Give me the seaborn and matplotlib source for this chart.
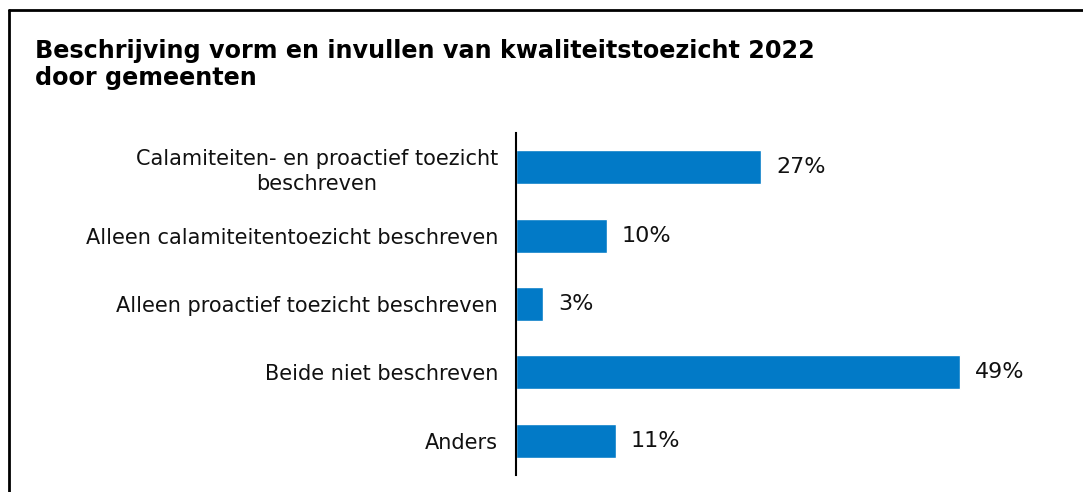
## Horizontal bar chart: kwaliteitstoezicht 2022 door gemeenten

import matplotlib
matplotlib.use("Agg")
import matplotlib.pyplot as plt
from matplotlib.lines import Line2D
import pandas as pd
import seaborn as sns

## data
categories = [
    "Calamiteiten- en proactief toezicht\nbeschreven",
    "Alleen calamiteitentoezicht beschreven",
    "Alleen proactief toezicht beschreven",
    "Beide niet beschreven",
    "Anders",
]
percentages = [27, 10, 3, 49, 11]
title = "Beschrijving vorm en invullen van kwaliteitstoezicht 2022\ndoor gemeenten"

df = pd.DataFrame({"categorie": categories, "procent": percentages})

sns.set_theme(style="white")
plt.rcParams["font.family"] = ["DejaVu Sans"]

fig = plt.figure(figsize=(10.83, 4.92), dpi=100)
ax = fig.add_axes([0.4765, 0.0346, 0.502, 0.695])

sns.barplot(data=df, x="procent", y="categorie", color="#027AC7",
            width=0.5, saturation=1, ax=ax)

ax.set_xlim(0, 60)
ax.set_ylim(4.5, -0.5)
ax.set_xlabel("")
ax.set_ylabel("")
ax.set_xticks([])
ax.tick_params(axis="y", length=0, pad=13, labelsize=15, labelcolor="#111111")
for lbl in ax.get_yticklabels():
    lbl.set_multialignment("center")
    lbl.set_linespacing(1.3)

for side in ["top", "right", "bottom"]:
    ax.spines[side].set_visible(False)
ax.spines["left"].set_color("black")
ax.spines["left"].set_linewidth(1.5)

## value labels next to the bars
for i, v in enumerate(percentages):
    ax.annotate(f"{v}%", xy=(v, i), xytext=(11, 0), textcoords="offset points",
                va="center", ha="left", fontsize=16, color="#111111")

## title, baseline of the last line at y=85 px
fig.text(35 / 1083, 1 - 85 / 492, title, ha="left", va="baseline",
         fontsize=17.2, fontweight="bold", linespacing=1.17, color="black")

## frame around the figure (top and left edges visible)
fig.add_artist(Line2D([9 / 1083, 9 / 1083], [1 - 10 / 492, 0], color="black",
                      linewidth=2, transform=fig.transFigure))
fig.add_artist(Line2D([9 / 1083, 1], [1 - 10 / 492, 1 - 10 / 492], color="black",
                      linewidth=2, transform=fig.transFigure))

fig.savefig("out.png", dpi=100)
